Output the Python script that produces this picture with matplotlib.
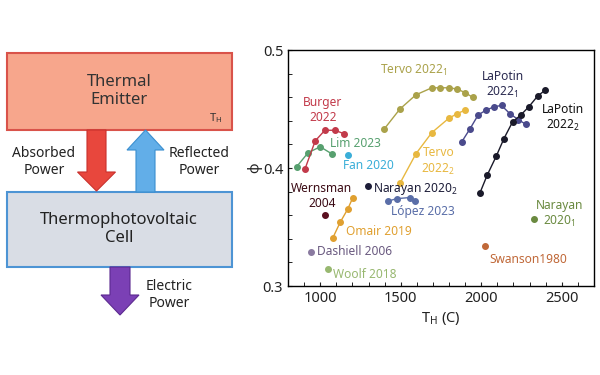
import matplotlib
matplotlib.use("Agg")
import matplotlib.pyplot as plt
from matplotlib.patches import Rectangle, FancyArrow

plt.rcParams['font.family'] = ['Noto Sans', 'DejaVu Sans']
plt.rcParams['mathtext.fontset'] = 'custom'
plt.rcParams['mathtext.rm'] = 'Noto Sans'
plt.rcParams['mathtext.it'] = 'Noto Sans'

# data: T_H in C, phi
lim_T = [853, 925, 1000, 1072]
lim_phi = [0.401, 0.413, 0.418, 0.412]
burger_T = [905, 969, 1029, 1091, 1149]
burger_phi = [0.399, 0.423, 0.432, 0.432, 0.429]
fan_T = [1174]
fan_phi = [0.411]
tervo1_T = [1397, 1495, 1594, 1693, 1745, 1797, 1849, 1898, 1946]
tervo1_phi = [0.433, 0.450, 0.462, 0.468, 0.468, 0.468, 0.467, 0.464, 0.460]
tervo2_T = [1495, 1594, 1693, 1797, 1849, 1898]
tervo2_phi = [0.387, 0.412, 0.430, 0.442, 0.446, 0.449]
lapotin1_T = [1878, 1929, 1981, 2029, 2081, 2126, 2178, 2230, 2277]
lapotin1_phi = [0.422, 0.433, 0.445, 0.449, 0.452, 0.453, 0.446, 0.441, 0.437]
lapotin2_T = [1992, 2037, 2093, 2141, 2194, 2246, 2296, 2350, 2397]
lapotin2_phi = [0.379, 0.394, 0.410, 0.425, 0.439, 0.445, 0.452, 0.461, 0.466]
wernsman_T = [1031]
wernsman_phi = [0.360]
narayan2_T = [1294]
narayan2_phi = [0.385]
lopez_T = [1422, 1474, 1557, 1588]
lopez_phi = [0.372, 0.374, 0.375, 0.372]
omair_T = [1079, 1124, 1170, 1203]
omair_phi = [0.341, 0.354, 0.365, 0.375]
dashiell_T = [942]
dashiell_phi = [0.329]
woolf_T = [1048]
woolf_phi = [0.314]
narayan1_T = [2327]
narayan1_phi = [0.357]
swanson_T = [2023]
swanson_phi = [0.334]

fig = plt.figure(figsize=(6, 3.75), dpi=100)

# ---- left: block diagram, drawn in pixel coordinates ----
d = fig.add_axes([0, 0, 1, 1])
d.set_xlim(0, 600)
d.set_ylim(375, 0)
d.axis('off')

d.add_patch(Rectangle((7, 53), 225, 77, facecolor='#f7a68c', edgecolor='#d9534a', lw=1.5))
d.add_patch(Rectangle((7, 192), 225, 75, facecolor='#d9dde5', edgecolor='#4d94d4', lw=1.5))
d.text(119, 91, 'Thermal\nEmitter', ha='center', va='center', fontsize=12, color='#333333', linespacing=1.25)
d.text(216, 118, r'T$_\mathregular{H}$', ha='center', va='center', fontsize=8, color='#333333')
d.text(119, 229, 'Thermophotovoltaic\nCell', ha='center', va='center', fontsize=12, color='#222222', linespacing=1.25)

# red arrow down, blue arrow up, purple arrow down
d.add_patch(FancyArrow(96.5, 130, 0, 61, width=19, head_width=38, head_length=19,
                       length_includes_head=True, facecolor='#e8473d', edgecolor='#c9302c', lw=0.8))
d.add_patch(FancyArrow(145.5, 192, 0, -62, width=19, head_width=37, head_length=20,
                       length_includes_head=True, facecolor='#62aee8', edgecolor='#3a8fd0', lw=0.8))
d.add_patch(FancyArrow(120, 267, 0, 48, width=20, head_width=38, head_length=20,
                       length_includes_head=True, facecolor='#7b40b5', edgecolor='#5c2a90', lw=0.8))
d.text(44, 162, 'Absorbed\nPower', ha='center', va='center', fontsize=10, color='#222222')
d.text(199, 162, 'Reflected\nPower', ha='center', va='center', fontsize=10, color='#222222')
d.text(169, 295, 'Electric\nPower', ha='center', va='center', fontsize=10, color='#222222')

# ---- right: scatter/line chart ----
ax = fig.add_axes([0.48, 0.2373, 0.51, 0.6293])

series = [
    (lim_T, lim_phi, '#57a06f'),
    (burger_T, burger_phi, '#c23a4a'),
    (fan_T, fan_phi, '#3aaed8'),
    (tervo1_T, tervo1_phi, '#aaa24a'),
    (tervo2_T, tervo2_phi, '#e8b840'),
    (lapotin1_T, lapotin1_phi, '#4a4a8c'),
    (lapotin2_T, lapotin2_phi, '#1a1a2a'),
    (wernsman_T, wernsman_phi, '#5a0f1f'),
    (narayan2_T, narayan2_phi, '#1c1c38'),
    (lopez_T, lopez_phi, '#5a6ea8'),
    (omair_T, omair_phi, '#e0a030'),
    (dashiell_T, dashiell_phi, '#8a7aa0'),
    (woolf_T, woolf_phi, '#98b870'),
    (narayan1_T, narayan1_phi, '#6a8a40'),
    (swanson_T, swanson_phi, '#c06838'),
]
for T, p, c in series:
    ax.plot(T, p, '-o', color=c, lw=1, ms=4, mec=c)

fs = 8.6
ax.text(1580, 0.4825, r'Tervo 2022$_\mathregular{1}$', color='#aaa24a', fontsize=fs, ha='center', va='center')
ax.text(2132, 0.4705, 'LaPotin\n' + r'2022$_\mathregular{1}$', color='#2a2a50', fontsize=fs, ha='center', va='center')
ax.text(2509, 0.4425, 'LaPotin\n' + r'2022$_\mathregular{2}$', color='#111111', fontsize=fs, ha='center', va='center')
ax.text(1015, 0.449, 'Burger\n2022', color='#c23a4a', fontsize=fs, ha='center', va='center')
ax.text(1221, 0.421, 'Lim 2023', color='#57a06f', fontsize=fs, ha='center', va='center')
ax.text(1296, 0.402, 'Fan 2020', color='#3aaed8', fontsize=fs, ha='center', va='center')
ax.text(1733, 0.4056, 'Tervo\n' + r'2022$_\mathregular{2}$', color='#e8b840', fontsize=fs, ha='center', va='center')
ax.text(1010, 0.376, 'Wernsman\n2004', color='#3a0a14', fontsize=fs, ha='center', va='center')
ax.text(1325, 0.382, r'Narayan 2020$_\mathregular{2}$', color='#1c1c38', fontsize=fs, ha='left', va='center')
ax.text(1640, 0.363, 'López 2023', color='#5a6ea8', fontsize=fs, ha='center', va='center')
ax.text(1159, 0.346, 'Omair 2019', color='#e0a030', fontsize=fs, ha='left', va='center')
ax.text(977, 0.329, 'Dashiell 2006', color='#6a5a80', fontsize=fs, ha='left', va='center')
ax.text(1081, 0.310, 'Woolf 2018', color='#98b870', fontsize=fs, ha='left', va='center')
ax.text(2484, 0.3613, 'Narayan\n' + r'2020$_\mathregular{1}$', color='#6a8a40', fontsize=fs, ha='center', va='center')
ax.text(2050, 0.3223, 'Swanson1980', color='#c06838', fontsize=fs, ha='left', va='center')

ax.set_xlim(800, 2700)
ax.set_ylim(0.3, 0.5)
ax.set_xticks([1000, 1500, 2000, 2500])
ax.set_xticks(range(900, 2700, 100), minor=True)
ax.set_yticks([0.3, 0.4, 0.5])
ax.set_yticklabels(['0.3', '0.4', '0.5'])
ax.set_yticks([0.32, 0.34, 0.36, 0.38, 0.42, 0.44, 0.46, 0.48], minor=True)
ax.tick_params(direction='in', labelsize=10.5, length=3, colors='#222222')
ax.tick_params(which='minor', direction='in', length=3)
for s in ax.spines.values():
    s.set_linewidth(1)
ax.set_xlabel(r'T$_\mathregular{H}$ (C)', fontsize=10.5, color='#222222', labelpad=3)
ax.set_ylabel('ϕ', fontsize=10.5, color='#222222', labelpad=0)

fig.savefig('out.png', dpi=100)
